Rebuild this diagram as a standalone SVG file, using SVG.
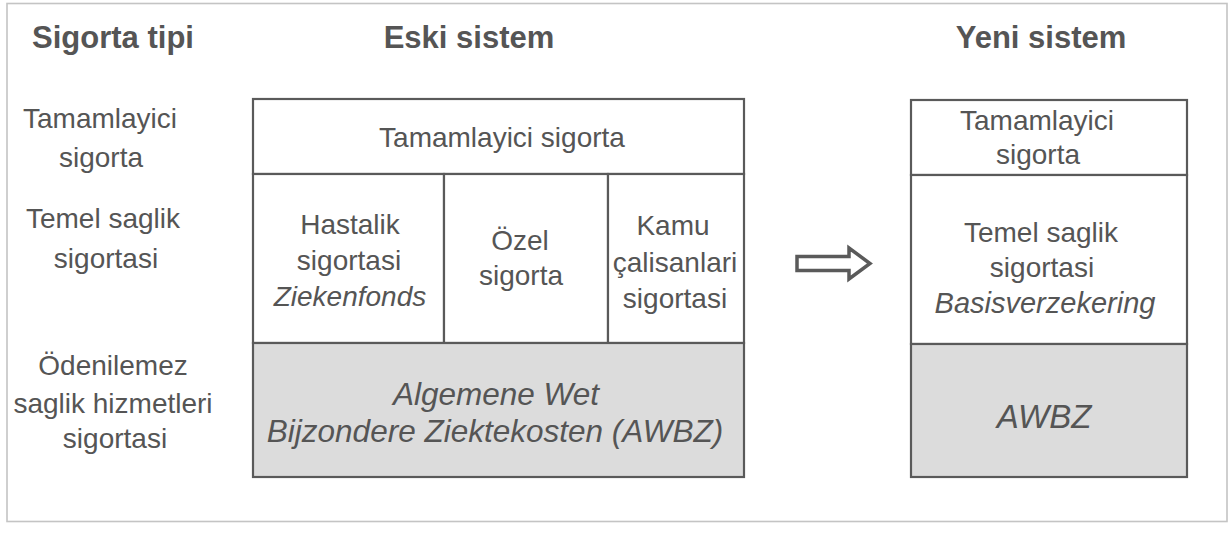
<svg xmlns="http://www.w3.org/2000/svg" width="1230" height="540" viewBox="0 0 1230 540">
  <style>
    text { font-family: "Liberation Sans", Arial, sans-serif; fill: #555555; text-anchor: middle; }
    .h { font-size: 31px; font-weight: bold; }
    .t { font-size: 28px; }
    .i { font-size: 28px; font-style: italic; }
    .ib { font-size: 31.5px; font-style: italic; }
    .cell { fill: #ffffff; stroke: #5a5a5a; stroke-width: 2.2; }
    .grey { fill: #dcdcdc; stroke: #5a5a5a; stroke-width: 2.2; }
    .frame { fill: #ffffff; stroke: #c4c4c4; stroke-width: 1.6; }
  </style>
  <rect width="1230" height="540" fill="#ffffff"/>
  <rect class="frame" x="7" y="3.5" width="1220" height="518"/>

  <g id="headers">
    <text class="h" x="113" y="48">Sigorta tipi</text>
    <text class="h" x="469" y="48">Eski sistem</text>
    <text class="h" x="1041" y="48">Yeni sistem</text>
  </g>

  <g id="row-labels">
    <text class="t" x="100" y="128">Tamamlayici</text>
    <text class="t" x="101" y="167">sigorta</text>
    <text class="t" x="103" y="228">Temel saglik</text>
    <text class="t" x="106" y="268">sigortasi</text>
    <text class="t" x="113" y="375">Ödenilemez</text>
    <text class="t" x="113" y="413">saglik hizmetleri</text>
    <text class="t" x="115" y="448">sigortasi</text>
  </g>

  <g id="old-tamamlayici">
    <rect class="cell" x="253" y="99" width="491" height="75"/>
    <text class="t" x="502" y="147">Tamamlayici sigorta</text>
  </g>
  <g id="old-hastalik">
    <rect class="cell" x="253" y="174" width="191" height="169"/>
    <text class="t" x="350" y="234">Hastalik</text>
    <text class="t" x="349" y="270">sigortasi</text>
    <text class="i" x="350" y="306">Ziekenfonds</text>
  </g>
  <g id="old-ozel">
    <rect class="cell" x="444" y="174" width="164" height="169"/>
    <text class="t" x="520" y="250">Özel</text>
    <text class="t" x="521" y="285">sigorta</text>
  </g>
  <g id="old-kamu">
    <rect class="cell" x="608" y="174" width="136" height="169"/>
    <text class="t" x="673" y="235">Kamu</text>
    <text class="t" x="675" y="272">çalisanlari</text>
    <text class="t" x="675" y="308">sigortasi</text>
  </g>
  <g id="old-awbz">
    <rect class="grey" x="253" y="343" width="491" height="134"/>
    <text class="ib" x="496" y="405">Algemene Wet</text>
    <text class="ib" x="495" y="442">Bijzondere Ziektekosten (AWBZ)</text>
  </g>

  <g id="connectors">
    <path d="M797,256.5 H849 V248 L870,263.5 L849,279 V270.5 H797 Z" fill="#ffffff" stroke="#5a5a5a" stroke-width="3.5" stroke-linejoin="miter"/>
  </g>

  <g id="new-tamamlayici">
    <rect class="cell" x="911" y="100" width="276" height="75"/>
    <text class="t" x="1037" y="130">Tamamlayici</text>
    <text class="t" x="1038" y="164">sigorta</text>
  </g>
  <g id="new-temel">
    <rect class="cell" x="911" y="175" width="276" height="169"/>
    <text class="t" x="1041" y="242">Temel saglik</text>
    <text class="t" x="1042" y="277">sigortasi</text>
    <text class="i" x="1045" y="313" style="font-size:29px">Basisverzekering</text>
  </g>
  <g id="new-awbz">
    <rect class="grey" x="911" y="344" width="276" height="133"/>
    <text class="ib" x="1044" y="428" style="font-size:33px">AWBZ</text>
  </g>
</svg>
